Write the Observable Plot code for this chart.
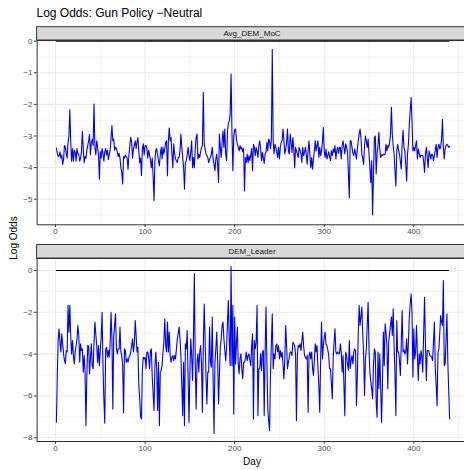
<!DOCTYPE html>
<html>
<head>
<meta charset="utf-8">
<script src="https://cdn.jsdelivr.net/npm/d3@7"></script>
<script src="https://cdn.jsdelivr.net/npm/@observablehq/plot@0.6"></script>
<style>
  body { margin: 0; background: #fff; }
  #chart { position: relative; width: 464px; height: 470px; overflow: hidden; background: #fff;
           font-family: "Liberation Sans", Arial, Helvetica, sans-serif; }
  #chart svg { position: absolute; left: 0; }
</style>
</head>
<body>
<div id="chart"></div>
<script>
// ---------- text ----------
const chartTitle = "Log Odds: Gun Policy \u2212Neutral";
const panelNames = ["Avg_DEM_MoC", "DEM_Leader"];
const xTitle = "Day";
const yTitle = "Log Odds";

// ---------- ticks ----------
const xTicks = [0, 100, 200, 300, 400];
const xMinorTicks = [50, 150, 250, 350, 450];
const yTicksTop = [0, -1, -2, -3, -4, -5];
const yMinorTop = [-0.5, -1.5, -2.5, -3.5, -4.5, -5.5];
const yTicksBottom = [0, -2, -4, -6, -8];
const yMinorBottom = [-1, -3, -5, -7];

// ---------- data ----------
const firstDay = 1;
const referenceLevel = 0;

const avgDemMoc = [
  -3.38,-3.55,-3.65,-3.62,-3.5,-3.7,-3.6,-3.9,-3.75,-3.3,
  -3.35,-3.55,-3.7,-3.2,-3.0,-2.17,-3.2,-3.8,-3.4,-3.8,
  -3.45,-3.5,-3.8,-3.4,-3.55,-3.6,-3.8,-3.7,-3.5,-2.85,
  -3.4,-3.85,-3.65,-3.7,-3.45,-3.3,-3.15,-2.95,-3.6,-3.2,
  -3.1,-3.3,-1.99,-3.35,-3.6,-3.15,-3.35,-3.6,-4.37,-3.5,
  -3.7,-3.4,-3.55,-3.8,-3.5,-3.4,-3.6,-3.45,-3.75,-3.6,
  -3.45,-3.1,-2.67,-3.15,-3.1,-3.45,-3.35,-3.4,-3.5,-3.65,
  -3.55,-3.7,-4.0,-4.15,-4.52,-3.65,-3.7,-3.6,-3.65,-3.7,
  -4.05,-3.6,-3.3,-3.04,-3.2,-3.7,-3.4,-3.3,-3.15,-3.4,
  -3.2,-3.05,-3.5,-3.85,-3.7,-4.25,-3.4,-3.25,-3.6,-3.3,
  -3.3,-3.4,-3.7,-3.45,-3.6,-3.75,-4.0,-3.7,-4.3,-5.05,
  -3.78,-3.45,-3.4,-3.6,-3.8,-3.95,-3.57,-3.36,-3.73,-3.36,
  -3.57,-3.4,-3.2,-3.15,-4.26,-3.15,-2.75,-3.15,-3.05,-3.57,
  -4.0,-3.25,-3.57,-3.73,-3.78,-3.84,-3.68,-3.68,-3.47,-2.94,
  -3.36,-3.68,-4.0,-4.68,-3.84,-3.78,-3.6,-3.36,-3.62,-3.78,
  -3.52,-3.15,-4.0,-3.68,-4.0,-3.4,-3.05,-2.94,-3.73,-3.57,
  -3.68,-3.5,-3.36,-3.3,-1.62,-3.25,-3.4,-3.57,-3.62,-3.68,
  -3.84,-3.73,-3.68,-3.57,-3.36,-3.73,-3.9,-4.1,-3.73,-3.57,
  -3.9,-4.47,-2.94,-3.36,-3.68,-3.2,-2.84,-3.36,-2.78,-3.57,
  -3.78,-2.84,-2.6,-2.52,-2.3,-1.04,-2.9,-4.1,-3.0,-2.8,
  -2.78,-3.1,-3.26,-3.36,-3.47,-3.3,-3.41,-3.36,-3.5,-3.4,
  -4.74,-3.68,-3.84,-3.57,-3.84,-3.62,-3.78,-3.6,-3.4,-4.1,
  -3.26,-3.36,-3.62,-3.36,-3.47,-3.68,-3.3,-3.15,-3.41,-3.78,
  -3.52,-3.7,-3.87,-3.57,-3.52,-3.2,-3.47,-3.1,-3.15,-3.41,
  -3.1,-0.26,-3.15,-3.57,-3.26,-3.36,-3.52,-3.68,-3.36,-3.73,
  -3.36,-3.2,-3.15,-2.78,-3.15,-3.57,-3.41,-3.2,-2.78,-3.47,
  -3.57,-2.94,-3.2,-3.52,-3.05,-3.4,-4.0,-3.36,-3.47,-3.57,
  -3.68,-3.36,-3.45,-3.57,-3.84,-3.36,-3.62,-3.52,-3.36,-3.6,
  -3.89,-3.47,-3.15,-3.6,-4.0,-3.68,-4.05,-3.73,-3.47,-3.15,
  -3.47,-3.3,-3.15,-3.68,-3.36,-3.62,-3.47,-3.2,-2.73,-3.47,
  -3.68,-3.41,-3.73,-3.62,-3.5,-3.65,-3.78,-3.47,-3.62,-3.41,
  -3.52,-3.3,-3.73,-3.47,-3.36,-3.55,-3.36,-3.36,-3.73,-3.3,
  -3.15,-3.36,-3.57,-3.25,-3.36,-3.5,-4.2,-4.95,-3.15,-3.15,
  -3.36,-3.55,-3.62,-3.41,-3.57,-3.73,-3.4,-3.15,-2.95,-2.78,
  -3.05,-3.57,-3.7,-3.9,-3.3,-3.0,-3.15,-3.36,-3.1,-3.57,
  -4.0,-4.47,-3.78,-5.5,-4.2,-3.05,-3.0,-4.2,-3.57,-3.3,
  -2.88,-3.4,-3.68,-3.6,-3.62,-3.57,-3.6,-3.57,-3.26,-3.47,
  -3.3,-3.36,-3.2,-2.94,-2.09,-2.94,-3.3,-3.57,-4.1,-4.58,
  -3.47,-3.26,-3.45,-3.57,-3.8,-4.05,-3.26,-2.82,-3.36,-3.47,
  -3.9,-4.42,-3.57,-3.26,-2.62,-2.2,-1.78,-2.52,-3.47,-3.36,
  -3.47,-3.3,-3.15,-3.73,-3.41,-3.55,-3.68,-3.6,-3.62,-3.62,
  -3.8,-4.15,-3.57,-3.36,-3.68,-4.0,-3.47,-3.6,-3.73,-3.57,
  -3.6,-3.78,-3.62,-3.45,-3.26,-3.68,-3.36,-3.26,-3.41,-3.36,
  -3.1,-2.48,-3.36,-3.73,-3.4,-3.3,-3.26,-3.3,-3.36,-3.33
];

const demLeader = [
  -7.26,-5.0,-3.3,-2.8,-3.43,-3.9,-3.03,-3.5,-3.99,-4.3,
  -4.47,-3.83,-3.9,-1.67,-2.95,-1.67,-3.11,-3.99,-3.35,-4.07,
  -4.47,-3.9,-3.6,-3.27,-2.63,-3.11,-4.39,-3.51,-3.83,-3.75,
  -4.86,-4.07,-4.86,-7.42,-5.02,-3.59,-3.62,-4.94,-4.2,-3.51,
  -4.55,-4.7,-3.5,-2.47,-3.03,-3.59,-4.39,-3.59,-4.55,-3.8,
  -3.19,-2.0,-4.55,-6.2,-7.3,-3.75,-3.67,-4.15,-3.83,-4.15,
  -3.5,-2.0,-3.27,-6.62,-3.19,-2.6,-2.07,-3.75,-3.99,-3.75,
  -3.75,-2.71,-3.9,-4.07,-4.55,-6.8,-3.75,-3.83,-4.39,-4.23,
  -4.39,-4.15,-4.07,-3.9,-3.6,-3.27,-3.9,-3.5,-2.39,-3.11,
  -3.9,-3.67,-5.5,-6.14,-7.0,-7.1,-4.7,-4.15,-4.23,-4.15,
  -4.7,-3.9,-3.9,-4.2,-4.7,-3.83,-3.75,-5.1,-5.9,-6.7,
  -4.5,-3.9,-4.7,-6.7,-4.39,-7.42,-4.86,-4.78,-4.55,-3.9,
  -3.43,-2.31,-3.59,-3.9,-2.47,-3.9,-2.95,-4.07,-4.39,-4.15,
  -4.07,-4.31,-4.07,-4.23,-3.75,-3.27,-3.0,-2.71,-3.27,-4.07,
  -5.5,-6.94,-4.39,-7.42,-3.51,-3.75,-2.87,-5.02,-7.26,-5.0,
  -3.27,-4.07,-5.26,-3.27,-0.16,-4.39,-6.62,-4.39,-3.99,-4.86,
  -3.9,-3.59,-4.47,-6.78,-3.67,-1.6,-3.27,-5.02,-6.38,-4.86,
  -4.86,-2.71,-4.39,-4.63,-2.23,-5.34,-7.8,-4.39,-3.75,-2.95,
  -4.23,-6.38,-5.0,-3.67,-3.27,-2.63,-2.47,-3.27,-3.8,-4.31,
  -3.67,-2.47,-1.44,-3.35,-4.55,0.19,-4.55,-1.67,-6.86,-2.23,
  -4.47,-3.5,-2.71,-4.47,-4.94,-4.2,-3.99,-4.7,-5.18,-4.39,
  -4.39,-4.2,-3.9,-4.31,-4.07,-3.99,-4.3,-4.55,-3.6,-3.03,
  -7.1,-3.35,-3.75,-3.43,-1.67,-6.94,-4.7,-4.7,-3.99,-4.78,
  -3.9,-3.83,-6.94,-3.9,-1.75,-4.5,-6.62,-7.2,-7.66,-5.0,
  -3.5,-2.07,-4.7,-3.99,-4.23,-3.6,-3.51,-3.9,-3.59,-4.23,
  -3.83,-4.15,-3.9,-4.5,-5.18,-4.23,-2.63,-3.59,-4.7,-4.39,
  -4.15,-3.9,-3.9,-4.07,-3.43,-3.51,-3.6,-3.99,-7.18,-4.07,
  -3.59,-3.67,-3.51,-3.83,-3.4,-2.95,-3.59,-4.07,-4.15,-4.23,
  -4.07,-6.78,-4.07,-3.9,-4.23,-3.9,-4.7,-5.02,-4.3,-3.51,
  -3.9,-3.59,-4.7,-5.5,-6.78,-4.23,-2.47,-4.23,-3.59,-3.2,
  -2.95,-3.51,-3.59,-3.8,-4.07,-4.7,-4.7,-5.4,-6.14,-4.2,
  -3.43,-2.79,-3.9,-3.99,-3.9,-3.95,-3.99,-3.51,-3.9,-4.86,
  -4.07,-5.5,-6.94,-3.9,-4.07,-4.5,-4.78,-3.35,-4.7,-4.3,
  -4.07,-4.47,-3.9,-3.75,-3.83,-6.46,-5.0,-3.0,-1.67,-2.63,
  -2.2,-1.75,-3.0,-4.07,-5.98,-4.23,-3.75,-2.6,-1.52,-3.75,
  -4.86,-5.3,-5.66,-6.14,-4.55,-3.75,-3.9,-6.3,-7.02,-3.9,
  -5.66,-3.99,-5.5,-7.26,-5.5,-2.95,-4.55,-2.55,-3.0,-3.59,
  -5.66,-3.43,-3.0,-2.6,-2.23,-3.11,-1.83,-3.59,-5.0,-6.94,
  -2.39,-3.9,-3.9,-4.31,-5.02,-3.5,-1.91,-3.9,-3.8,-3.99,
  -3.9,-3.27,-4.47,-3.4,-2.23,-1.6,-1.12,-1.99,-5.1,-2.79,
  -4.23,-3.9,-2.63,-4.0,-5.26,-3.99,-4.47,-3.83,-4.07,-4.86,
  -3.0,-1.28,-3.43,-5.26,-3.83,-3.83,-3.9,-4.07,-4.1,-4.15,
  -4.31,-3.4,-2.47,-4.7,-5.5,-6.46,-3.9,-3.75,-3.0,-2.15,
  -2.47,-2.63,-0.48,-4.55,-4.47,-3.3,-2.07,-4.39,-5.8,-7.1
];

// ---------- layout / style ----------
const W = 464, H = 470;
const FONT = '"Liberation Sans", Arial, Helvetica, sans-serif';
const panelLeft = 36.64;
const xDomain = [-20.5, 456.6];
const gridColor = "#EBEBEB";
const borderColor = "#333333";
const tickTextColor = "#4D4D4D";
const fmt = d => (d < 0 ? "\u2212" + Math.abs(d) : String(d));

const chart = d3.select("#chart");

function makePanel({values, name, yDomain, yTicks, yMinor, top, height, marginTop, marginBottom, stripHeight}) {
  const data = values.map((v, i) => ({day: firstDay + i, value: v}));
  const [d0, d1] = d3.extent(data, d => d.day);
  const svg = Plot.plot({
    width: W,
    height,
    marginLeft: panelLeft,
    marginRight: 0,
    marginTop,
    marginBottom,
    style: {background: "transparent", fontFamily: FONT, fontSize: "8px", overflow: "visible"},
    x: {domain: xDomain},
    y: {domain: yDomain},
    marks: [
      Plot.ruleY(yMinor, {stroke: gridColor, strokeWidth: 0.55}),
      Plot.ruleX(xMinorTicks, {stroke: gridColor, strokeWidth: 0.55}),
      Plot.ruleY(yTicks, {stroke: gridColor, strokeWidth: 1.1}),
      Plot.ruleX(xTicks, {stroke: gridColor, strokeWidth: 1.1}),
      Plot.ruleY([referenceLevel], {x1: d0, x2: d1, stroke: "black", strokeWidth: 1.1}),
      Plot.line(data, {x: "day", y: "value", stroke: "blue", strokeWidth: 1.1, clip: true}),
      Plot.ruleX([xDomain[0]], {stroke: borderColor, strokeWidth: 1}),
      Plot.ruleY([yDomain[0]], {stroke: borderColor, strokeWidth: 1}),
      Plot.ruleY([yDomain[1]], {stroke: borderColor, strokeWidth: 1}),
      Plot.axisX({ticks: xTicks, tickFormat: fmt, anchor: "bottom", tickSize: 2.75, tickPadding: 1,
                  stroke: borderColor, fill: tickTextColor, fontSize: 8, label: null}),
      Plot.axisY({ticks: yTicks, tickFormat: fmt, anchor: "left", tickSize: 2.75, tickPadding: 2,
                  stroke: borderColor, fill: tickTextColor, fontSize: 8, label: null})
    ]
  });
  svg.style.top = top + "px";
  // facet strip
  const s = d3.select(svg);
  const stripY = marginTop - stripHeight;
  const stripRight = W + 4;
  s.append("rect")
    .attr("x", panelLeft).attr("y", stripY)
    .attr("width", stripRight - panelLeft).attr("height", stripHeight)
    .attr("fill", "#D9D9D9").attr("stroke", borderColor).attr("stroke-width", 1);
  s.append("text")
    .attr("x", (panelLeft + 467.4) / 2).attr("y", stripY + stripHeight / 2)
    .attr("dy", "0.35em").attr("text-anchor", "middle")
    .attr("font-family", FONT).attr("font-size", 8).attr("fill", "#1A1A1A")
    .text(name);
  chart.node().appendChild(svg);
}

makePanel({values: avgDemMoc, name: panelNames[0], yDomain: [-5.81, 0.022], yTicks: yTicksTop, yMinor: yMinorTop,
           top: 0, height: 240, marginTop: 40, marginBottom: 15.7, stripHeight: 13.3});
makePanel({values: demLeader, name: panelNames[1], yDomain: [-8.18, 0.574], yTicks: yTicksBottom, yMinor: yMinorBottom,
           top: 240, height: 230, marginTop: 18, marginBottom: 29, stripHeight: 13.5});

// overlay: title and axis titles
const ov = chart.append("svg").attr("width", W).attr("height", H)
  .style("top", "0px").style("pointer-events", "none");
ov.append("text").attr("x", 36.5).attr("y", 17.3)
  .attr("font-family", FONT).attr("font-size", 12).attr("fill", "black")
  .text(chartTitle);
ov.append("text").attr("transform", "translate(13.5,238) rotate(-90)")
  .attr("dy", "0.35em").attr("text-anchor", "middle")
  .attr("font-family", FONT).attr("font-size", 10).attr("fill", "black")
  .text(yTitle);
ov.append("text").attr("x", 252).attr("y", 461)
  .attr("dy", "0.35em").attr("text-anchor", "middle")
  .attr("font-family", FONT).attr("font-size", 10).attr("fill", "black")
  .text(xTitle);
</script>
</body>
</html>
